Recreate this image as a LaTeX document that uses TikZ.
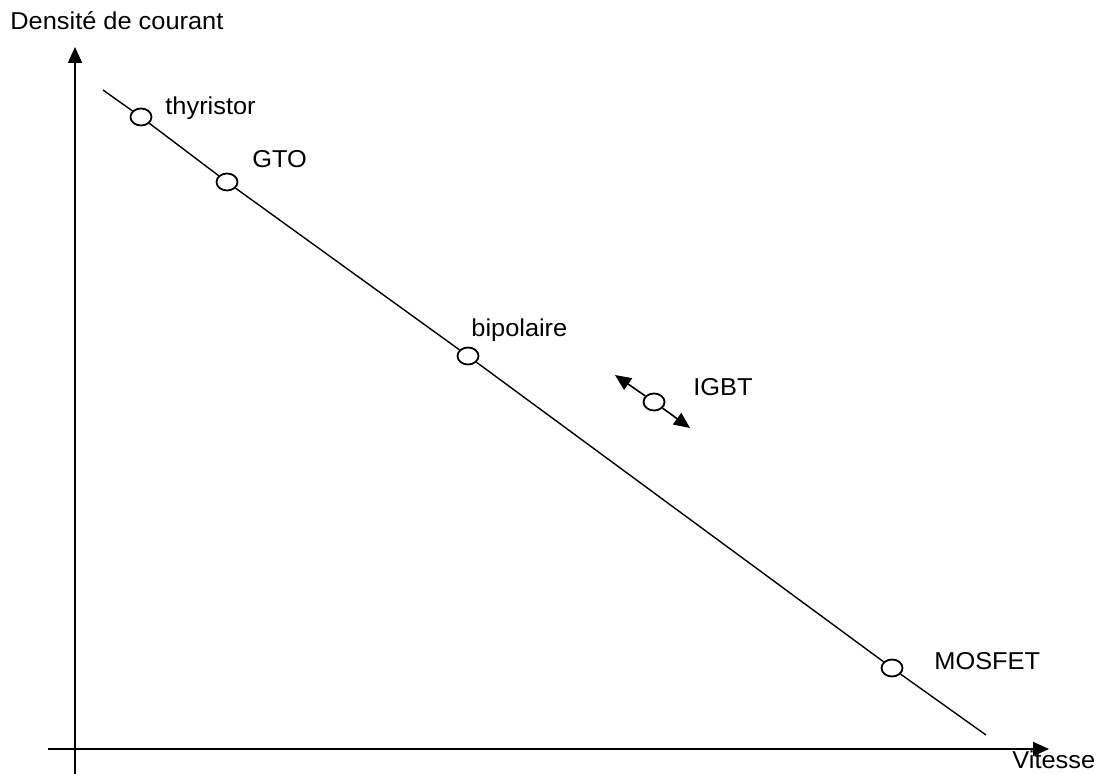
\documentclass[tikz,border=0pt]{standalone}
\usepackage{fontspec}
\setmainfont{Liberation Sans}[FakeStretch=1.04]
\usetikzlibrary{arrows.meta,shapes.geometric}
\begin{document}
\begin{tikzpicture}[x=0.5pt,y=-0.5pt,
    axis/.style={line width=1pt,-{Triangle[length=8pt,width=7pt]}},
    device/.style={ellipse,draw,fill=white,line width=0.9pt,inner sep=0pt,
      minimum width=10.5pt,minimum height=8.5pt},
    devlabel/.style={anchor=base west,inner sep=0pt,font=\fontsize{12.2}{14}\selectfont},
    swing/.style={line width=0.8pt,-{Triangle[length=8pt,width=7pt]}}]
  \useasboundingbox (0,0) rectangle (1106,774);

  % Axes
  \coordinate (yfoot) at (75,774);
  \coordinate (ytip) at (75,47);
  \coordinate (xfoot) at (48,749);
  \coordinate (xtip) at (1049,749);
  \draw[axis] (yfoot) -- (ytip);
  \draw[axis] (xfoot) -- (xtip);
  \node[devlabel] (ylabel) at (10,30) {Densité de courant};
  \node[devlabel] (xlabel) at (1012,768) {Vitesse};

  % Devices along the line
  \coordinate (lstart) at (103,90);
  \coordinate (lend) at (986,735);
  \node[device] (thy) at (141,117) {};
  \node[device] (gto) at (227,182) {};
  \node[device] (bip) at (468,356) {};
  \node[device] (mos) at (892,668) {};
  \draw[line width=0.7pt] (lstart) -- (thy) -- (gto) -- (bip) -- (mos) -- (lend);

  % IGBT moves both ways
  \node[device] (igbt) at (654,402) {};
  \coordinate (igbtup) at (615,375);
  \coordinate (igbtdown) at (690,428);
  \draw[swing] (igbt) -- (igbtup);
  \draw[swing] (igbt) -- (igbtdown);

  % Add labels
  \node[devlabel] at (165,115) {thyristor};
  \node[devlabel] at (252,168) {GTO};
  \node[devlabel] at (471,337) {bipolaire};
  \node[devlabel] at (693,395) {IGBT};
  \node[devlabel] at (934,669) {MOSFET};
\end{tikzpicture}
\end{document}
